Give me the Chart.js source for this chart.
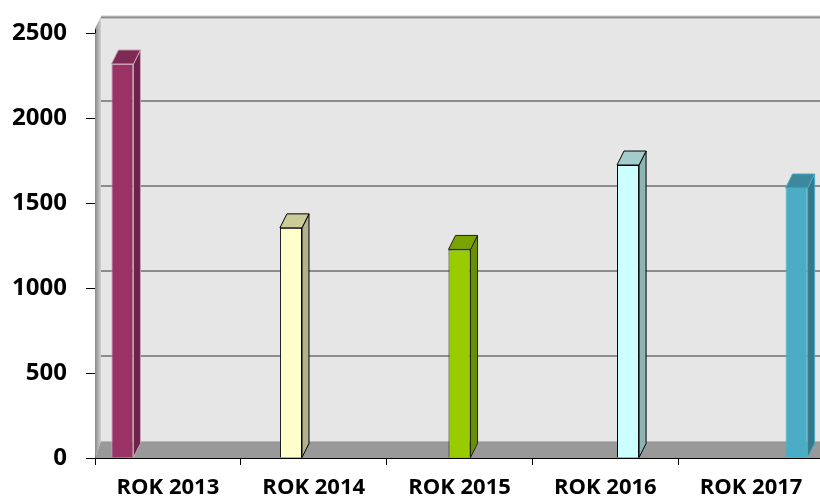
<!DOCTYPE html>
<html>
<head>
<meta charset="utf-8">
<script src="https://cdn.jsdelivr.net/npm/chart.js@4"></script>
<style>
  html, body { margin: 0; padding: 0; background: #fff; overflow: hidden; }
  #wrap { width: 830px; height: 497px; }
</style>
</head>
<body>
<div id="wrap"><canvas id="chart" width="830" height="497"></canvas></div>
<script>
// data
const categories = ['ROK 2013', 'ROK 2014', 'ROK 2015', 'ROK 2016', 'ROK 2017'];
const values = [2320, 1355, 1228, 1725, 1590];
const yMin = 0, yMax = 2500, yStep = 500;

const frontColors = ['#993366', '#FFFFCC', '#99CC00', '#CCFFFF', '#4BACC6'];
const sideColors  = ['#6B2347', '#B2B28E', '#6B8F00', '#8EB3B3', '#34788A'];
const topColors   = ['#7F2A55', '#CCCC99', '#7AA300', '#A3CCCC', '#3C899E'];
const edgeColors  = ['#C9A0B4', '#000000', '#222222', '#000000', '#4BACC6'];

// depth of the fake 3d
const WALL_DX = 6, WALL_DY = -17;
const BAR_DX = 7, BAR_DY = -14;

const walls = {
  id: 'walls',
  beforeDatasetsDraw(chart) {
    const {ctx, chartArea: a, scales: {y}} = chart;
    const L = a.left, R = a.right, T = a.top, B = a.bottom;
    ctx.save();
    // back wall
    ctx.fillStyle = '#E6E6E6';
    ctx.fillRect(L + WALL_DX, T + WALL_DY, R - L + 20, B - T);
    // top edge of back wall
    ctx.fillStyle = '#D4D4D4';
    ctx.fillRect(L + WALL_DX, T + WALL_DY - 1, R - L + 20, 1);
    ctx.fillStyle = '#8C8C8C';
    ctx.fillRect(L + WALL_DX, T + WALL_DY, R - L + 20, 2);
    // grid lines on back wall
    ctx.strokeStyle = '#8C8C8C';
    ctx.lineWidth = 2;
    for (let v = yMin + yStep; v < yMax; v += yStep) {
      const py = Math.round(y.getPixelForValue(v)) + WALL_DY;
      ctx.beginPath();
      ctx.moveTo(L + WALL_DX, py);
      ctx.lineTo(R + 20, py);
      ctx.stroke();
    }
    // left wall
    const g = ctx.createLinearGradient(L, 0, L + WALL_DX, 0);
    g.addColorStop(0, '#8A8A8A');
    g.addColorStop(1, '#D2D2D2');
    ctx.fillStyle = g;
    ctx.beginPath();
    ctx.moveTo(L, T - 5);
    ctx.lineTo(L + WALL_DX, T + WALL_DY);
    ctx.lineTo(L + WALL_DX, B + WALL_DY);
    ctx.lineTo(L, B);
    ctx.closePath();
    ctx.fill();
    // floor
    ctx.fillStyle = '#999999';
    ctx.beginPath();
    ctx.moveTo(L, B);
    ctx.lineTo(L + WALL_DX, B + WALL_DY);
    ctx.lineTo(R + 20, B + WALL_DY);
    ctx.lineTo(R + 20, B);
    ctx.closePath();
    ctx.fill();
    ctx.fillStyle = '#B8B8B8';
    ctx.fillRect(L + WALL_DX, B + WALL_DY, R - L + 20, 1);
    // y axis above top tick
    ctx.strokeStyle = '#000';
    ctx.lineWidth = 1;
    ctx.beginPath();
    ctx.moveTo(L + 0.5, T - 4);
    ctx.lineTo(L + 0.5, T);
    ctx.stroke();
    ctx.restore();
  },
  afterDatasetsDraw(chart) {
    const ctx = chart.ctx;
    ctx.save();
    chart.data.datasets.forEach((ds, i) => {
      const meta = chart.getDatasetMeta(i);
      meta.data.forEach((el, j) => {
        if (ds.data[j] == null) return;
        const {x, y, base, width} = el.getProps(['x', 'y', 'base', 'width'], true);
        const l = x - width / 2, r = x + width / 2;
        ctx.lineWidth = 1;
        ctx.strokeStyle = edgeColors[i];
        // side
        ctx.fillStyle = sideColors[i];
        ctx.beginPath();
        ctx.moveTo(r, y);
        ctx.lineTo(r + BAR_DX, y + BAR_DY);
        ctx.lineTo(r + BAR_DX, base + BAR_DY);
        ctx.lineTo(r, base);
        ctx.closePath();
        ctx.fill();
        ctx.stroke();
        // top
        ctx.fillStyle = topColors[i];
        ctx.beginPath();
        ctx.moveTo(l, y);
        ctx.lineTo(l + BAR_DX, y + BAR_DY);
        ctx.lineTo(r + BAR_DX, y + BAR_DY);
        ctx.lineTo(r, y);
        ctx.closePath();
        ctx.fill();
        ctx.stroke();
      });
    });
    ctx.restore();
  }
};

new Chart(document.getElementById('chart'), {
  type: 'bar',
  data: {
    labels: categories,
    datasets: categories.map((c, i) => ({
      label: c,
      data: categories.map((_, j) => (j === i ? values[i] : null)),
      backgroundColor: frontColors[i],
      borderColor: edgeColors[i],
      borderWidth: 1,
      barPercentage: 0.97,
      categoryPercentage: 0.78
    }))
  },
  options: {
    responsive: false,
    animation: false,
    layout: { padding: { top: 30, right: 6, left: 0, bottom: 0 } },
    plugins: { legend: { display: false }, tooltip: { enabled: false } },
    scales: {
      x: {
        afterFit(s) { s.height = 39; },
        grid: { drawOnChartArea: false, drawTicks: true, tickLength: 7, color: '#000', offset: true },
        border: { display: true, color: '#000', width: 1 },
        ticks: { color: '#000', padding: 10, maxRotation: 0, autoSkip: false,
                 font: { family: 'Open Sans', weight: 'bold', size: 22 } }
      },
      y: {
        min: yMin,
        max: yMax,
        afterFit(s) { s.width = 95; },
        grid: { drawOnChartArea: false, drawTicks: true, tickLength: 9, color: '#000' },
        border: { display: true, color: '#000', width: 1 },
        ticks: { stepSize: yStep, color: '#000', padding: 19,
                 callback: v => String(v),
                 font: { family: 'Open Sans', weight: 'bold', size: 24 } }
      }
    }
  },
  plugins: [walls]
});
</script>
</body>
</html>
